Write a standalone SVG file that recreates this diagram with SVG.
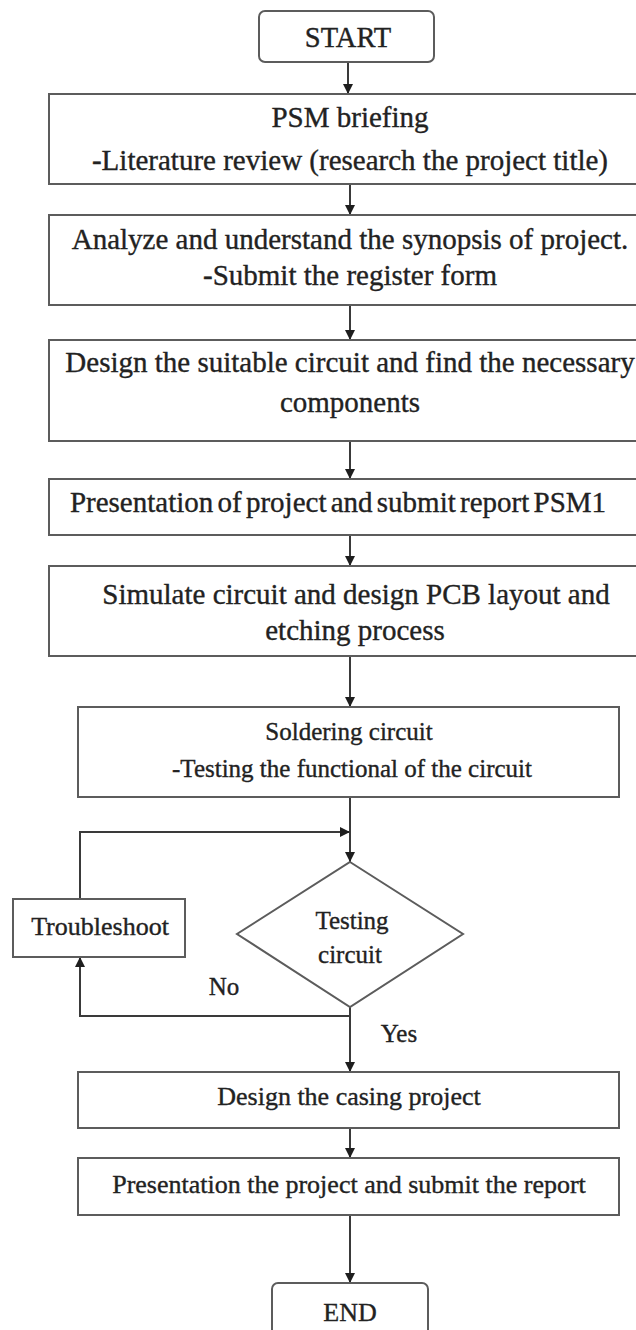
<svg xmlns="http://www.w3.org/2000/svg" width="636" height="1330" viewBox="0 0 636 1330">
  <defs>
    <marker id="arrow" viewBox="0 0 10 10" refX="10" refY="5" markerWidth="10" markerHeight="10" markerUnits="userSpaceOnUse" orient="auto">
      <path d="M0,0 L10,5 L0,10 Z" fill="#1e1e1e"/>
    </marker>
    <style>
      .box { fill: #ffffff; stroke: #5c5c5c; stroke-width: 2; }
      .line { fill: none; stroke: #3a3a3a; stroke-width: 2; }
      text { font-family: "Liberation Serif", "Times New Roman", serif; fill: #222222; stroke: #222222; stroke-width: 0.35; text-anchor: middle; }
      .lg { font-size: 29px; }
      .md { font-size: 26px; }
      .sm { font-size: 25px; }
    </style>
  </defs>
  <rect width="636" height="1330" fill="#ffffff"/>

  <!-- connectors -->
  <g id="connectors">
    <path class="line" d="M348,62 V94" marker-end="url(#arrow)"/>
    <path class="line" d="M350,184 V215" marker-end="url(#arrow)"/>
    <path class="line" d="M350,305 V340" marker-end="url(#arrow)"/>
    <path class="line" d="M350,441 V479" marker-end="url(#arrow)"/>
    <path class="line" d="M350,535 V566" marker-end="url(#arrow)"/>
    <path class="line" d="M350,656 V707" marker-end="url(#arrow)"/>
    <path class="line" d="M350,797 V862" marker-end="url(#arrow)"/>
    <path class="line" d="M80,899 V832 H350" marker-end="url(#arrow)"/>
    <path class="line" d="M350,1007 V1016 H80 V957" marker-end="url(#arrow)"/>
    <path class="line" d="M350,1007 V1072" marker-end="url(#arrow)"/>
    <path class="line" d="M350,1128 V1158" marker-end="url(#arrow)"/>
    <path class="line" d="M350,1215 V1283" marker-end="url(#arrow)"/>
  </g>

  <g id="start">
    <rect class="box" x="259" y="11" width="175" height="51" rx="6"/>
    <text x="348" y="47" font-size="28.5">START</text>
  </g>

  <g id="briefing">
    <rect class="box" x="49" y="94" width="602" height="90"/>
    <text class="lg" x="350" y="127">PSM briefing</text>
    <text class="lg" x="350" y="170">-Literature review (research the project title)</text>
  </g>

  <g id="synopsis">
    <rect class="box" x="49" y="215" width="602" height="90"/>
    <text class="lg" x="350" y="249">Analyze and understand the synopsis of project.</text>
    <text class="lg" x="350" y="285">-Submit the register form</text>
  </g>

  <g id="design-circuit">
    <rect class="box" x="49" y="340" width="602" height="101"/>
    <text class="lg" x="350" y="372">Design the suitable circuit and find the necessary</text>
    <text class="lg" x="350" y="412">components</text>
  </g>

  <g id="presentation-psm1">
    <rect class="box" x="49" y="479" width="602" height="56"/>
    <text class="lg" x="338" y="512" word-spacing="-3">Presentation of project and submit report PSM1</text>
  </g>

  <g id="simulate">
    <rect class="box" x="49" y="566" width="602" height="90"/>
    <text class="lg" x="356" y="604">Simulate circuit and design PCB layout and</text>
    <text class="lg" x="355" y="640">etching process</text>
  </g>

  <g id="soldering">
    <rect class="box" x="78" y="707" width="541" height="90"/>
    <text class="sm" x="349" y="740">Soldering circuit</text>
    <text class="sm" x="352" y="777">-Testing the functional of the circuit</text>
  </g>

  <g id="troubleshoot">
    <rect class="box" x="13" y="899" width="172" height="58"/>
    <text class="md" x="100" y="935">Troubleshoot</text>
  </g>

  <g id="testing">
    <polygon class="box" points="350,862 463,934 350,1007 237,934"/>
    <text class="sm" x="352" y="929">Testing</text>
    <text class="sm" x="350" y="963">circuit</text>
  </g>

  <g id="branch-labels">
    <text class="sm" x="224" y="995">No</text>
    <text class="sm" x="399" y="1042">Yes</text>
  </g>

  <g id="casing">
    <rect class="box" x="78" y="1072" width="541" height="56"/>
    <text class="md" x="349" y="1105">Design the casing project</text>
  </g>

  <g id="final-presentation">
    <rect class="box" x="78" y="1158" width="541" height="57"/>
    <text class="md" x="349" y="1193">Presentation the project and submit the report</text>
  </g>

  <g id="end">
    <rect class="box" x="272" y="1283" width="156" height="60" rx="6"/>
    <text class="md" x="350" y="1321">END</text>
  </g>
</svg>
